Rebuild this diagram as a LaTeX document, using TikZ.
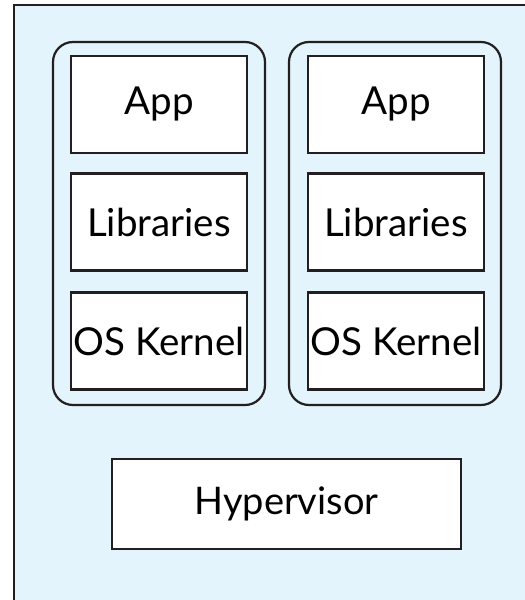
\documentclass[tikz,border=0pt]{standalone}
\usepackage{fontspec}
\setmainfont{Lato}
\definecolor{bgblue}{HTML}{E3F4FC}
\definecolor{linec}{HTML}{231F20}
\begin{document}
\begin{tikzpicture}[x=1pt,y=-1pt,
  layerbox/.style={draw=linec,line width=2.2pt,fill=white,minimum width=176pt,minimum height=97pt,inner sep=0pt,font=\fontsize{38.5}{44}\selectfont},
  vmbox/.style={draw=linec,line width=2.2pt,rounded corners=20pt},
  hvbox/.style={draw=linec,line width=2.2pt,fill=white,minimum width=349pt,minimum height=90pt,inner sep=0pt,font=\fontsize{38}{44}\selectfont}]
\useasboundingbox (0,0) rectangle (525,600);
\begin{scope}
\clip (0,0) rectangle (525,600);
\draw[draw=linec,line width=2.6pt,fill=bgblue] (14,5) rectangle (540,615);
\end{scope}
\draw[vmbox] (53,42) rectangle (265,405);
\draw[vmbox] (289,42) rectangle (501,405);
\node[layerbox] (app1) at (159,104.5) {App};
\node[layerbox] (lib1) at (159,222) {Libraries};
\node[layerbox] (os1) at (159,341) {OS Kernel};
\node[layerbox] (app2) at (396,104.5) {App};
\node[layerbox] (lib2) at (396,222) {Libraries};
\node[layerbox] (os2) at (396,341) {OS Kernel};
\node[hvbox] (hv) at (286.5,504) {Hypervisor};
\end{tikzpicture}
\end{document}
